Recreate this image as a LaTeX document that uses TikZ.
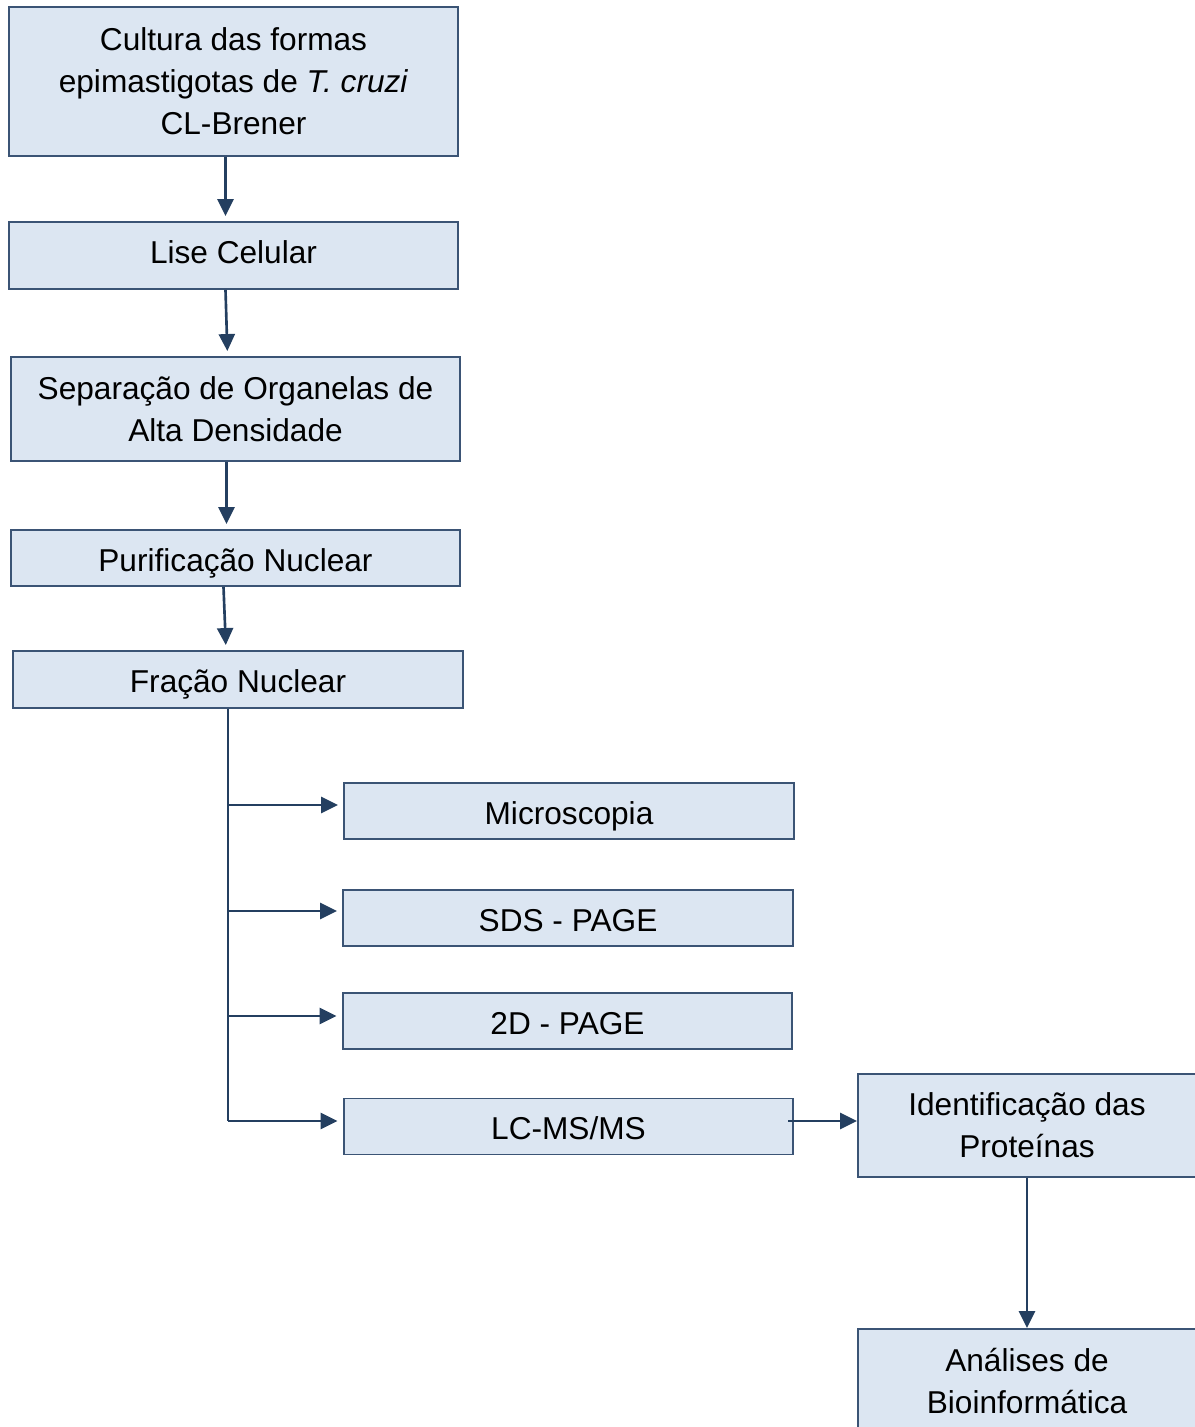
\documentclass[tikz,border=0pt]{standalone}
\usepackage{fontspec}
\setmainfont{Liberation Sans}
\usepackage{xcolor}
\usetikzlibrary{arrows.meta}
\definecolor{boxfill}{HTML}{DCE6F2}
\definecolor{boxline}{HTML}{3B5475}
\definecolor{arrline}{HTML}{243F60}

\begin{document}
\begin{tikzpicture}[x=0.02cm,y=-0.02cm,
        box/.style={draw=boxline,fill=boxfill,line width=1.1pt,inner sep=0pt,align=center,
                minimum width=9cm,minimum height=1.12cm,font=\fontsize{18}{23.9}\selectfont},
        single/.style={text height=15.2pt,text depth=0pt},
        arr/.style={draw=arrline,line width=1.5pt,-{Triangle[length=0.34cm,width=0.32cm]},shorten >=0.1cm},
        ln/.style={draw=arrline,line width=1.5pt}]
        \useasboundingbox (0,0) rectangle (1194,1427);
        \node[box,minimum width=8.98cm,minimum height=2.98cm](cult) at (233.5,81.5) {Cultura das formas\\epimastigotas de \textit{T. cruzi}\\CL-Brener};
        \node[box,single,text height=9.6pt,minimum width=8.98cm,minimum height=1.34cm](lise) at (233.5,255.5) {Lise Celular};
        \node[box,minimum width=8.98cm,minimum height=2.08cm](sep) at (235.5,409) {Separação de Organelas de\\Alta Densidade};
        \node[box,single,minimum width=8.98cm](pur) at (235.5,558) {Purificação Nuclear};
        \node[box,single,minimum height=1.14cm](fra) at (238,679.5) {Fração Nuclear};
        \node[box,single](mic) at (569,811) {Microscopia};
        \node[box,single](sds) at (568,918) {SDS - PAGE};
        \node[box,single](dd) at (567.5,1021) {2D - PAGE};
        \node[box,single](lc) at (568.5,1126.5) {LC-MS/MS};
        \node[box,minimum width=6.76cm,minimum height=2.06cm](ident) at (1027,1125.5) {Identificação das\\Proteínas};
        \node[box,minimum width=6.76cm,minimum height=2.08cm](bio) at (1027,1381) {Análises de\\Bioinformática};
        \coordinate(trunk) at (228,1121);
        \draw[arr] ([xshift=-0.16cm]cult.south) -- ([xshift=-0.16cm]lise.north);
        \draw[arr] ([xshift=-0.16cm]lise.south) -- ([xshift=-0.16cm]sep.north);
        \draw[arr] ([xshift=-0.18cm]sep.south) -- ([xshift=-0.18cm]pur.north);
        \draw[arr] ([xshift=-0.24cm]pur.south) -- ([xshift=-0.24cm]fra.north);
        \draw[ln] (fra.south -| trunk) -- (trunk);
        \draw[arr] ([yshift=0.12cm]mic.west -| trunk) -- ([yshift=0.12cm]mic.west);
        \draw[arr] ([yshift=0.14cm]sds.west -| trunk) -- ([yshift=0.14cm]sds.west);
        \draw[arr] ([yshift=0.1cm]dd.west -| trunk) -- ([yshift=0.1cm]dd.west);
        \draw[arr] (trunk) -- (trunk -| lc.west);
        \draw[arr,shorten >=0pt] ([xshift=-0.12cm]lc.east |- trunk) -- (trunk -| ident.west);
        \draw[arr,shorten >=0pt] (ident) -- (bio);
\end{tikzpicture}
\end{document}
